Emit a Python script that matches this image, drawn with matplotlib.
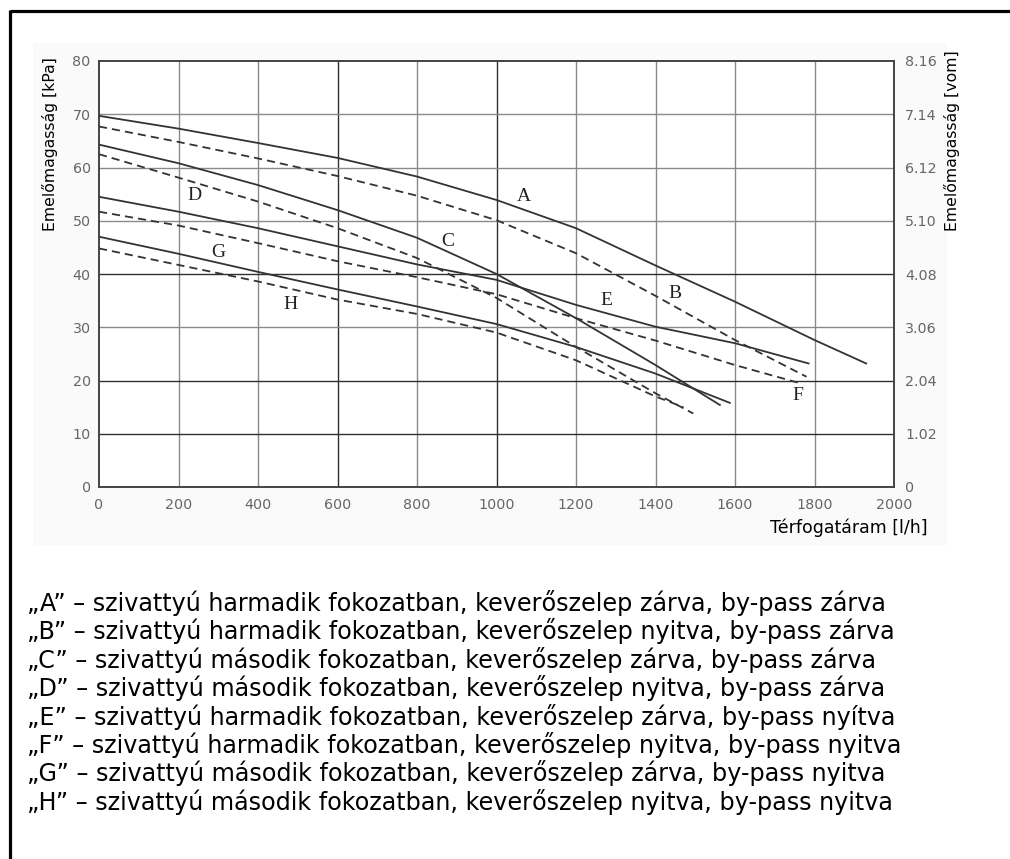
import matplotlib
matplotlib.use("Agg")
import matplotlib.pyplot as plt
from matplotlib.lines import Line2D
from matplotlib.patches import Rectangle

# ---- curve data (flow l/h -> head kPa) --------------------------------------
A_x = [0, 200, 400, 600, 800, 1000, 1200, 1400, 1600, 1800, 1930]
A_y = [69.7, 67.3, 64.6, 61.8, 58.3, 53.9, 48.6, 41.6, 34.8, 27.6, 23.2]
B_x = [0, 200, 400, 600, 800, 1000, 1200, 1400, 1600, 1780]
B_y = [67.7, 64.8, 61.7, 58.4, 54.7, 50.1, 43.9, 35.9, 27.6, 20.7]
C_x = [0, 200, 400, 600, 800, 1000, 1200, 1400, 1562]
C_y = [64.3, 60.8, 56.7, 52.0, 46.8, 40.0, 31.7, 22.9, 15.4]
D_x = [0, 200, 400, 600, 800, 1000, 1200, 1400, 1495]
D_y = [62.5, 58.1, 53.6, 48.6, 43.0, 35.5, 26.3, 17.6, 13.8]
E_x = [0, 200, 400, 600, 800, 1000, 1200, 1400, 1600, 1785]
E_y = [54.5, 51.7, 48.6, 45.2, 41.8, 38.9, 34.2, 30.1, 27.0, 23.2]
F_x = [0, 200, 400, 600, 800, 1000, 1200, 1400, 1600, 1763]
F_y = [51.7, 49.1, 45.8, 42.4, 39.4, 36.2, 31.7, 27.5, 22.9, 19.5]
G_x = [0, 200, 400, 600, 800, 1000, 1200, 1400, 1587]
G_y = [47.0, 43.8, 40.4, 37.1, 33.9, 30.6, 26.3, 21.3, 15.8]
H_x = [0, 200, 400, 600, 800, 1000, 1200, 1400, 1470]
H_y = [44.8, 41.7, 38.6, 35.2, 32.5, 29.0, 23.8, 17.0, 15.0]

CURVES = [("A", A_x, A_y, "-"), ("B", B_x, B_y, "--"),
          ("C", C_x, C_y, "-"), ("D", D_x, D_y, "--"),
          ("E", E_x, E_y, "-"), ("F", F_x, F_y, "--"),
          ("G", G_x, G_y, "-"), ("H", H_x, H_y, "--")]

# curve letter positions (data coords)
LBL_NAME = ["A", "B", "C", "D", "E", "F", "G", "H"]
LBL_X = [1069, 1449, 878, 241, 1277, 1759, 300, 483]
LBL_Y = [54.5, 36.4, 46.1, 54.8, 35.1, 17.2, 44.0, 34.3]

X_TICKS = list(range(0, 2001, 200))
Y_TICKS = list(range(0, 81, 10))
R_TICKS = ["0", "1.02", "2.04", "3.06", "4.08", "5.10", "6.12", "7.14", "8.16"]

LEGEND = [
    "„A” – szivattyú harmadik fokozatban, keverőszelep zárva, by-pass zárva",
    "„B” – szivattyú harmadik fokozatban, keverőszelep nyitva, by-pass zárva",
    "„C” – szivattyú második fokozatban, keverőszelep zárva, by-pass zárva",
    "„D” – szivattyú második fokozatban, keverőszelep nyitva, by-pass zárva",
    "„E” – szivattyú harmadik fokozatban, keverőszelep zárva, by-pass nyítva",
    "„F” – szivattyú harmadik fokozatban, keverőszelep nyitva, by-pass nyitva",
    "„G” – szivattyú második fokozatban, keverőszelep zárva, by-pass nyitva",
    "„H” – szivattyú második fokozatban, keverőszelep nyitva, by-pass nyitva",
]

W, H = 1010, 859
fig = plt.figure(figsize=(W / 100, H / 100), dpi=100)
fig.patch.set_facecolor("white")

# faint panel behind the chart + thick frame (top and left)
fig.add_artist(Rectangle((33 / W, 1 - 545 / H), (947 - 33) / W, (545 - 43) / H,
                         transform=fig.transFigure, facecolor="#fafafa",
                         edgecolor="none", zorder=0))
fig.add_artist(Line2D([9.5 / W, 1.0], [1 - 11.3 / H] * 2, transform=fig.transFigure,
                      color="black", lw=2.3, solid_capstyle="butt"))
fig.add_artist(Line2D([9.5 / W] * 2, [0.0, 1 - 10 / H], transform=fig.transFigure,
                      color="black", lw=2.3, solid_capstyle="butt"))

ax = fig.add_axes([99 / W, 1 - 487 / H, 795 / W, 426 / H])
ax.set_facecolor("white")
ax.set_xlim(0, 2000)
ax.set_ylim(0, 80)

# grid (some lines print darker in the original)
for gx in X_TICKS[1:-1]:
    dark = gx in (600, 1000)
    ax.axvline(gx, color="#303030" if dark else "#8a8a8a", lw=1.0, zorder=1)
for gy in Y_TICKS[1:-1]:
    dark = gy in (10, 20, 40)
    ax.axhline(gy, color="#303030" if dark else "#8a8a8a", lw=1.0, zorder=1)
for s in ax.spines.values():
    s.set_color("#444444")
    s.set_linewidth(1.4)

for name, xs, ys, ls in CURVES:
    if ls == "-":
        ax.plot(xs, ys, color="#333333", lw=1.3, zorder=3)
    else:
        ax.plot(xs, ys, color="#333333", lw=1.3, linestyle=(0, (4.5, 2.8)), zorder=3)

for n, lx, ly in zip(LBL_NAME, LBL_X, LBL_Y):
    ax.text(lx, ly, n, ha="center", va="center", fontsize=14,
            family="Liberation Serif", color="#222222", zorder=4)

ax.set_xticks(X_TICKS)
ax.set_yticks(Y_TICKS)
ax.tick_params(length=0, labelsize=10.3, labelcolor="#666666", pad=6)
ax.tick_params(axis="x", pad=8)

ax2 = ax.twinx()
ax2.set_ylim(0, 8.16)
ax2.set_yticks([i * 1.02 for i in range(9)])
ax2.set_yticklabels(R_TICKS)
ax2.tick_params(length=0, labelsize=10.3, labelcolor="#666666", pad=8)
for s in ax2.spines.values():
    s.set_visible(False)

ax.text(-0.0616, 1.01, "Emelőmagasság [kPa]", rotation=90, ha="center", va="top",
        transform=ax.transAxes, fontsize=11.3, color="black")
ax.text(1.0729, 1.025, "Emelőmagasság [vom]", rotation=90, ha="center", va="top",
        transform=ax.transAxes, fontsize=11.3, color="black")
ax.text(1.042, -0.096, "Térfogatáram [l/h]", ha="right", va="center",
        transform=ax.transAxes, fontsize=12.5, color="black")

# legend lines below the chart
for i, line in enumerate(LEGEND):
    fig.text(27 / W, 1 - (603 + i * 28.4) / H, line, ha="left", va="center",
             fontsize=17.2, color="black", family="DejaVu Sans")

fig.savefig("out.png", dpi=100, facecolor="white")
